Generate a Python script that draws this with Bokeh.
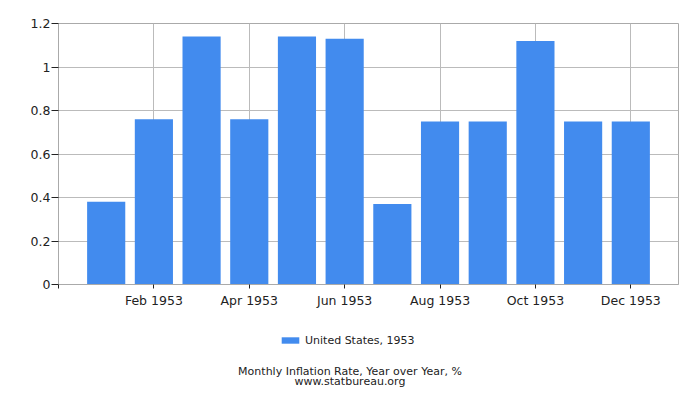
from bokeh.plotting import figure
from bokeh.layouts import column
from bokeh.models import Range1d, FixedTicker, Legend, LegendItem, Label
from bokeh.embed import file_html
from bokeh.resources import INLINE

months = ["Jan", "Feb", "Mar", "Apr", "May", "Jun", "Jul", "Aug", "Sep", "Oct", "Nov", "Dec"]
rates = [0.38, 0.76, 1.14, 0.76, 1.14, 1.13, 0.37, 0.75, 0.75, 1.12, 0.75, 0.75]
tick_pos = [-1, 1, 3, 5, 7, 9, 11]
tick_text = ["", "Feb 1953", "Apr 1953", "Jun 1953", "Aug 1953", "Oct 1953", "Dec 1953"]
y_ticks = [0, 0.2, 0.4, 0.6, 0.8, 1, 1.2]
series_name = "United States, 1953"
title_lines = ["Monthly Inflation Rate, Year over Year, %", "www.statbureau.org"]

xs = list(range(len(months)))
font = "DejaVu Sans"
bar_color = "#428bee"

p = figure(width=700, height=320, output_backend="svg", toolbar_location=None,
           x_range=Range1d(-1, 12), y_range=Range1d(0, 1.2),
           min_border_left=58, min_border_right=22, min_border_top=23, min_border_bottom=36)

bars = p.vbar(x=xs, top=rates, width=0.8, fill_color=bar_color, line_color=None)

p.xaxis.ticker = FixedTicker(ticks=tick_pos)
p.xaxis.major_label_overrides = {t: s for t, s in zip(tick_pos, tick_text)}
p.yaxis.ticker = FixedTicker(ticks=y_ticks)
p.yaxis.major_label_overrides = {0: "0", 1: "1"}
for ax in (p.xaxis, p.yaxis):
    ax.axis_line_color = "#aaaaaa"
    ax.major_tick_line_color = "#222222"
    ax.minor_tick_line_color = None
    ax.major_label_text_font = font
    ax.major_label_text_font_size = "12.5px"
    ax.major_label_text_color = "#222222"
    ax.major_tick_in = 0
p.xaxis.major_tick_out = 4
p.xaxis.major_label_standoff = 4
p.yaxis.major_tick_out = 7
p.yaxis.major_label_standoff = 1

p.grid.grid_line_color = "#bbbbbb"
p.outline_line_color = "#aaaaaa"

# bottom strip with legend and caption (its frame lines up with the chart's frame)
p2 = figure(width=700, height=80, output_backend="svg", toolbar_location=None,
            x_axis_type=None, y_axis_type=None, min_border=0,
            x_range=Range1d(-1, 12), y_range=Range1d(5, 6))
p2.outline_line_color = None
p2.grid.visible = False
# flat copy of the series below the view: only feeds the legend swatch
proxy = p2.vbar(x=xs, top=rates, bottom=rates, width=0, fill_color=bar_color, line_color=None)

legend = Legend(items=[LegendItem(label=series_name, renderers=[proxy])],
                location=(221, 53))
legend.border_line_color = None
legend.background_fill_alpha = 0
legend.padding = 0
legend.margin = 0
legend.glyph_width = 22
legend.glyph_height = 8
legend.label_height = 14
legend.label_standoff = 4
legend.label_text_font = font
legend.label_text_font_size = "11px"
legend.label_text_color = "#222222"
p2.add_layout(legend)

for txt, yy in zip(title_lines, [29, 19.5]):
    p2.add_layout(Label(x=291.5, y=yy, x_units="screen", y_units="screen", text=txt,
                        text_align="center", text_baseline="alphabetic",
                        text_font=font, text_font_size="11px", text_color="#222222"))

open("out.html", "w").write(file_html(column(p, p2, spacing=0), INLINE))
